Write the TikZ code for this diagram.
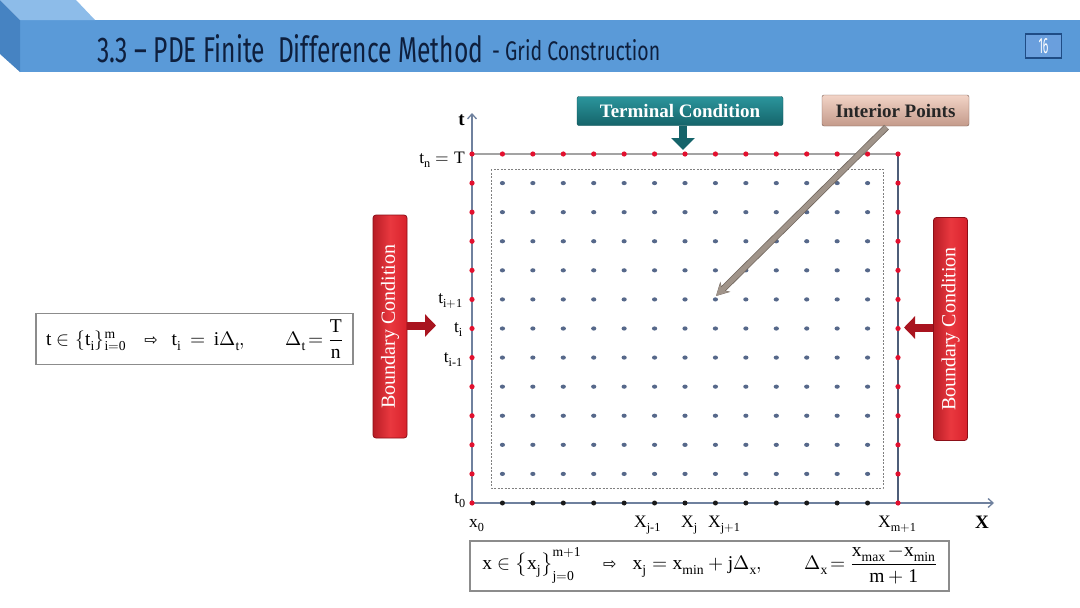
\documentclass[tikz,border=0pt]{standalone}
\usepackage{fontspec}
\usepackage{unicode-math}
\setmainfont{Liberation Serif}
\setmathfont{Latin Modern Math}
\newfontfamily\titlefont{Fira Sans}
\newfontfamily\symfont{DejaVu Sans}
\usetikzlibrary{arrows.meta,calc}
\definecolor{bandc}{HTML}{5A9AD8}
\definecolor{bandtop}{HTML}{8DBCE9}
\definecolor{bandleft}{HTML}{4683C2}
\definecolor{navyc}{HTML}{0E1F3D}
\definecolor{reddot}{HTML}{E3102E}
\definecolor{bluedot}{HTML}{56688A}
\definecolor{axisc}{HTML}{6F819E}
\definecolor{rightc}{HTML}{4E5D78}
\definecolor{topc}{HTML}{A3A3A3}
\definecolor{tealtop}{HTML}{2B959C}
\definecolor{tealbot}{HTML}{15646A}
\definecolor{tealdark}{HTML}{0E5257}
\definecolor{pinktop}{HTML}{F2D4C7}
\definecolor{pinkbot}{HTML}{C49A8A}
\definecolor{pinkdraw}{HTML}{7D5F55}
\definecolor{bcred}{HTML}{D8222C}
\definecolor{bcmid}{HTML}{E9383F}
\definecolor{bcdark}{HTML}{8C0F18}
\definecolor{barrowc}{HTML}{A9141F}
\definecolor{intarc}{HTML}{A0948A}
\definecolor{intdark}{HTML}{6F645C}
\definecolor{pagec}{HTML}{6A9FDD}
\definecolor{pagedark}{HTML}{1F4C85}
\newcommand{\lab}{\fontsize{17.5}{20}\selectfont}
\newcommand{\flab}{\fontsize{19.5}{22}\selectfont}
\newcommand{\dimp}{{\symfont\fontsize{16}{16}\selectfont ⇨}}
\tikzset{
  rdot/.style={fill=reddot},
  bdot/.style={fill=bluedot},
  kdot/.style={fill=black!90},
  termbox/.style={draw=tealdark, top color=tealtop, bottom color=tealbot, rounded corners=2pt,
    minimum width=206pt, minimum height=29pt, text=white, inner sep=0pt,
    font=\fontsize{19}{22}\selectfont\bfseries},
  intbox/.style={draw=pinkdraw, top color=pinktop, bottom color=pinkbot, rounded corners=2pt,
    minimum width=147pt, minimum height=31pt, text=black!85, inner sep=0pt,
    font=\fontsize{19}{22}\selectfont\bfseries},
  bcbox/.style={draw=bcdark, line width=0.8pt, left color=bcred!85!black, right color=bcred, middle color=bcmid,
    rounded corners=3pt, minimum width=223pt, minimum height=34pt, text=white, inner sep=0pt,
    font=\fontsize{20}{22}\selectfont, rotate=90},
  barrow/.style={draw=barrowc, line width=8pt, -{Triangle[length=11pt,width=22pt]}},
  tarrow/.style={draw=tealbot, line width=8pt, -{Triangle[length=12pt,width=23pt]}},
  intarrow/.style={draw=intarc, line width=5pt, -{Stealth[length=12pt,width=12pt]}},
  intedge/.style={draw=intdark, line width=6.5pt, -{Stealth[length=13pt,width=14pt]}},
  fbox/.style={draw=black!45, line width=1.3pt, fill=white, inner sep=0pt},
  labn/.style={inner sep=0pt, font=\lab},
  axislab/.style={inner sep=0pt, font=\fontsize{19}{22}\selectfont\bfseries},
}
\begin{document}
\begin{tikzpicture}[x=1pt,y=-1pt]
\useasboundingbox (0,0) rectangle (1080,608);
\fill[white] (0,0) rectangle (1080,608);
% title band
\fill[bandc] (20,20) rectangle (1080,72);
\fill[bandtop] (0,0) -- (76,0) -- (95,20) -- (20,20) -- cycle;
\fill[bandleft] (0,0) -- (20,20) -- (20,72) -- (0,54) -- cycle;
\node[anchor=base west, inner sep=0pt, text=navyc] (title) at (97,62)
  {\resizebox{386pt}{28pt}{\titlefont 3.3 – PDE Finite\ \ Difference Method}};
\node[anchor=base west, inner sep=0pt, text=navyc] (subtitle) at (492,60)
  {\resizebox{168pt}{21pt}{\titlefont - Grid Construction}};
\node[fill=pagec, draw=pagedark, line width=1.2pt, minimum width=36pt, minimum height=24pt, inner sep=0pt, text=white]
  (page) at (1043.5,46) {\resizebox{10pt}{15pt}{\titlefont 16}};
% grid
\def\xs{30.4286}
\def\ys{29.0833}
\draw[dashed, draw=black!50, dash pattern=on 2pt off 1.5pt, line width=0.7pt] (491,169) rectangle (883,488);
\draw[topc, line width=1.3pt] (472,154) -- (898,154);
\draw[rightc, line width=1.3pt] (898,154) -- (898,503);
\draw[axisc, line width=1.3pt, -{Straight Barb[length=5pt,width=9pt]}] (472,503) -- (472,113);
\draw[axisc, line width=1.3pt, -{Straight Barb[length=5pt,width=9pt]}] (472,503) -- (994,503);
\foreach \k in {1,...,13} {
  \foreach \r in {1,...,11} {
    \fill[bdot] (472+\k*\xs,154+\r*\ys) ellipse (2.6pt and 2.1pt);
  }
  \fill[kdot] (472+\k*\xs,503) circle (2.5pt);
}
\foreach \k in {0,...,14} {
  \fill[rdot] (472+\k*\xs,154) circle (2.6pt);
}
\foreach \r in {1,...,12} {
  \fill[rdot] (472,154+\r*\ys) circle (2.6pt);
  \fill[rdot] (898,154+\r*\ys) circle (2.6pt);
}
% axis labels
\node[axislab, anchor=base east] (tax) at (465,125) {t};
\node[axislab, anchor=base west] (xax) at (975,528) {X};
\node[labn, anchor=base east] (tn) at (465,163) {$\mathrm{t_n = T}$};
\node[labn, anchor=base east] (tip) at (463,303) {$\mathrm{t_{i+1}}$};
\node[labn, anchor=base east] (ti) at (463,332) {$\mathrm{t_i}$};
\node[labn, anchor=base east] (tim) at (463,362) {$\mathrm{t_{i\text{-}1}}$};
\node[labn, anchor=base east] (t0) at (466,503) {$\mathrm{t_0}$};
\node[labn, anchor=base west] (x0) at (469,527) {$\mathrm{x_0}$};
\node[labn, anchor=base west] (xjm) at (634,527) {$\mathrm{X_{j\text{-}1}}$};
\node[labn, anchor=base west] (xj) at (681,527) {$\mathrm{X_j}$};
\node[labn, anchor=base west] (xjp) at (708,527) {$\mathrm{X_{j+1}}$};
\node[labn, anchor=base west] (xm) at (878,527) {$\mathrm{X_{m+1}}$};
% callout boxes
\node[termbox] (term) at (680,111) {Terminal Condition};
\coordinate (ttip) at (683,150);
\draw[tarrow] (term.south -| ttip) -- (ttip);
\node[intbox] (intb) at (895.5,110.5) {Interior Points};
\coordinate (ipt) at (716,296);
\draw[intedge] ($(intb.south)+(-9,1)$) -- (ipt);
\draw[intarrow] ($(intb.south)+(-9,1)$) -- (ipt);
\node[bcbox] (lbc) at (390,326.5) {Boundary Condition};
\coordinate (lbtip) at (436,325.5);
\draw[barrow] (lbc.south |- lbtip) -- (lbtip);
\node[bcbox] (rbc) at (950.5,329) {Boundary Condition};
\coordinate (rbtip) at (904,327.5);
\draw[barrow] (rbc.north |- rbtip) -- (rbtip);
% formula boxes
\node[fbox, minimum width=317pt, minimum height=51pt] (tf) at (194.5,339)
  {\flab $\mathrm{t}\in\{\mathrm{t_i}\}_{\mathrm{i=0}}^{\mathrm{m}}$\hspace{18pt}\dimp\hspace{14pt}$\mathrm{t_i\,=\,i}\Delta_{\mathrm{t}}\mathrm{,}$\hspace{40pt}$\Delta_{\mathrm{t}}\!=\dfrac{\mathrm{T}}{\mathrm{n}}$};
\node[fbox, minimum width=479pt, minimum height=50pt] (xf) at (709.5,566)
  {\flab $\mathrm{x}\in\left\{\mathrm{x_j}\right\}_{\mathrm{j=0}}^{\mathrm{m+1}}$\hspace{22pt}\dimp\hspace{16pt}$\mathrm{x_j = x_{min} + j}\Delta_{\mathrm{x}}\mathrm{,}$\hspace{42pt}$\Delta_{\mathrm{x}}\!=\dfrac{\mathrm{x_{max}}\,{-}\mathrm{x_{min}}}{\mathrm{m+1}}$};
\end{tikzpicture}
\end{document}
